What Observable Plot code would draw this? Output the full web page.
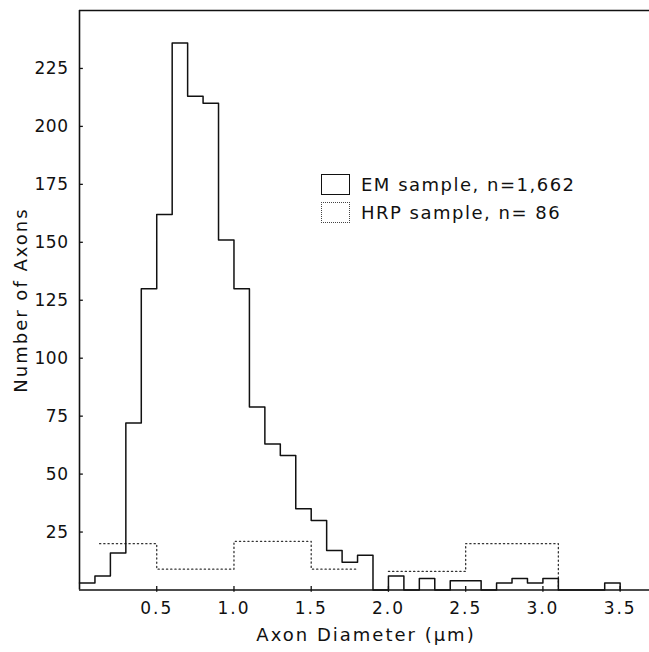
<!DOCTYPE html>
<html>
<head>
<meta charset="utf-8">
<script src="https://cdn.jsdelivr.net/npm/d3@7"></script>
<script src="https://cdn.jsdelivr.net/npm/@observablehq/plot@0.6"></script>
<style>
  html, body { margin: 0; padding: 0; background: #fff; }
  #wrap { position: relative; width: 649px; height: 652px; font-family: "DejaVu Sans", sans-serif; color: #111; }
  #wrap svg { display: block; }
  .lab { position: absolute; font-size: 18px; letter-spacing: 2px; white-space: nowrap; color: #111; }
  .leg { position: absolute; display: flex; align-items: center; font-size: 18px; letter-spacing: 1.5px; white-space: nowrap; color: #111; }
  .box { width: 29px; height: 21px; box-sizing: border-box; margin-right: 11px; }
</style>
</head>
<body>
<div id="wrap"></div>
<script>
// EM sample: counts per 0.1 µm bin, bins starting at 0.0 µm
const emBinStart = 0.0;
const emBinWidth = 0.1;
const emCounts = [3, 6, 16, 72, 130, 162, 236, 213, 210, 151,
                  130, 79, 63, 58, 35, 30, 17, 12, 15, 0,
                  6, 0, 5, 0, 4, 4, 0, 3, 5, 3,
                  5, 0, 0, 0, 3];
// HRP sample: irregular bins
const hrpLo = [0.13, 0.5, 1.0, 1.5, 2.0, 2.5];
const hrpHi = [0.5, 1.0, 1.5, 1.8, 2.5, 3.1];
const hrpCounts = [20, 9, 21, 9, 8, 20];

const yTicks = [25, 50, 75, 100, 125, 150, 175, 200, 225];
const xTicks = [0.5, 1.0, 1.5, 2.0, 2.5, 3.0, 3.5];
const legendLabels = ["EM sample, n=1,662", "HRP sample, n= 86"];
const xTitle = "Axon Diameter (µm)";
const yTitle = "Number of Axons";

// Build step paths
const emPts = emCounts.map((c, i) => ({x: emBinStart + i * emBinWidth, y: c}));
emPts.push({x: emBinStart + emCounts.length * emBinWidth, y: 0});

const hrpPts = [];
hrpLo.forEach((lo, i) => {
  if (i > 0 && Math.abs(lo - hrpHi[i - 1]) > 1e-9) {
    hrpPts.push({x: hrpHi[i - 1], y: hrpCounts[i - 1]});
    hrpPts.push({x: (hrpHi[i - 1] + lo) / 2, y: NaN});
  }
  hrpPts.push({x: lo, y: hrpCounts[i]});
});
hrpPts.push({x: hrpHi[hrpHi.length - 1], y: 0});

const chart = Plot.plot({
  width: 649,
  height: 652,
  marginLeft: 79,
  marginRight: 0,
  marginTop: 10,
  marginBottom: 62.5,
  x: {domain: [0, 3.69]},
  y: {domain: [0, 250]},
  style: {fontFamily: "DejaVu Sans, sans-serif", fontSize: "17px", color: "#111", background: "white", overflow: "visible"},
  marks: [
    Plot.ruleX([0], {stroke: "#111", strokeWidth: 1.6}),
    Plot.ruleY([0], {stroke: "#111", strokeWidth: 1.6}),
    Plot.ruleY([250], {stroke: "#111", strokeWidth: 1.4}),
    Plot.ruleY(yTicks, {x1: 0, x2: 0.025, stroke: "#111", strokeWidth: 1.3}),
    Plot.ruleX(xTicks, {y1: -1, y2: 1.5, stroke: "#111", strokeWidth: 1.3}),
    Plot.axisY({ticks: yTicks, tickSize: 0, tickPadding: 11, label: null}),
    Plot.axisX({ticks: xTicks, tickFormat: d => d.toFixed(1), tickSize: 0, tickPadding: 12, label: null}),
    Plot.line(hrpPts, {x: "x", y: "y", curve: "step-after", stroke: "#333", strokeWidth: 1.3, strokeDasharray: "1.2,3"}),
    Plot.line(emPts, {x: "x", y: "y", curve: "step-after", stroke: "#111", strokeWidth: 1.5})
  ]
});
const texts = Array.from(chart.querySelectorAll("text"));
texts.forEach(t => {
  t.style.fontSize = "17px";
  t.style.fontFamily = "'DejaVu Sans', sans-serif";
  const v = t.textContent;
  t.setAttribute("letter-spacing", v.includes(".") ? "2" : "0.5");
});

const wrap = document.getElementById("wrap");
wrap.appendChild(chart);

const xt = document.createElement("div");
xt.className = "lab";
xt.textContent = xTitle;
xt.style.left = "366px";
xt.style.top = "634px";
xt.style.transform = "translate(-50%, -50%)";
wrap.appendChild(xt);

const yt = document.createElement("div");
yt.className = "lab";
yt.textContent = yTitle;
yt.style.left = "20px";
yt.style.top = "300px";
yt.style.transform = "translate(-50%, -50%) rotate(-90deg)";
wrap.appendChild(yt);

const styles = ["1.3px solid #111", "1.3px dotted #444"];
const tops = [174, 202];
legendLabels.forEach((lab, i) => {
  const d = document.createElement("div");
  d.className = "leg";
  d.style.left = "321px";
  d.style.top = tops[i] + "px";
  const b = document.createElement("div");
  b.className = "box";
  b.style.border = styles[i];
  const s = document.createElement("span");
  s.textContent = lab;
  d.appendChild(b);
  d.appendChild(s);
  wrap.appendChild(d);
});
</script>
</body>
</html>
